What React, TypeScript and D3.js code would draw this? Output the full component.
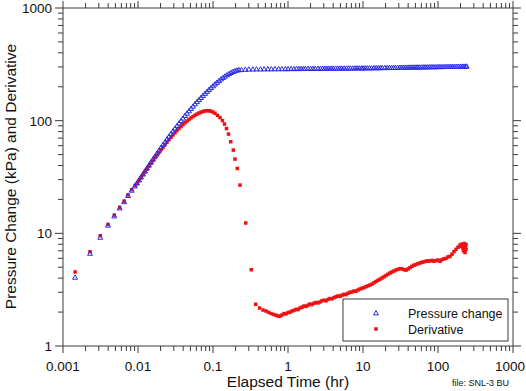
import React from "react";
import * as d3 from "d3";

// ---- data (time in hr, values in kPa) ----
const earlyTime = [0.00145, 0.00229, 0.00314, 0.00398, 0.00483, 0.0057, 0.00654, 0.00736, 0.00824, 0.00912];
const earlyPressure = [4.07, 6.64, 9.21, 11.78, 14.24, 16.77, 19.07, 21.6, 24.1, 26.3];
const earlyDerivative = [4.54, 6.87, 9.52, 12.0, 14.5, 17.0, 19.3, 21.9, 24.4, 26.6];

const storageTime = [0.0097, 0.01031, 0.01096, 0.01166, 0.0124, 0.01318, 0.01402, 0.01491, 0.01585, 0.01685,
  0.01792, 0.01905, 0.02026, 0.02154, 0.02291, 0.02436, 0.0259, 0.02754, 0.02929, 0.03114,
  0.03311, 0.03521, 0.03744, 0.03981, 0.04233, 0.04501, 0.04786, 0.05089, 0.05412, 0.05754,
  0.06119, 0.06506, 0.06918, 0.07356, 0.07822, 0.08318, 0.08844, 0.09405, 0.1, 0.1063,
  0.1131, 0.1202, 0.1278, 0.1359, 0.1445, 0.1537, 0.1634, 0.1738, 0.1848, 0.1965, 0.2089, 0.2222];
const storagePressure = [27.95, 29.72, 31.59, 33.59, 35.71, 37.96, 40.36, 42.91, 45.62, 48.42,
  51.37, 54.51, 57.85, 61.24, 64.85, 68.66, 72.56, 76.67, 81.02, 85.44,
  90.1, 95.01, 100.0, 105.2, 110.8, 116.3, 122.2, 128.1, 134.2, 140.7,
  147.2, 153.6, 160.3, 167.3, 174.3, 181.6, 188.8, 196.3, 203.6, 211.2,
  218.7, 226.4, 233.9, 241.2, 248.3, 254.9, 261.2, 267.2, 272.7, 277.2, 280.6, 282.9];

const plateauTime = [0.24, 0.27, 0.3, 0.34, 0.38, 0.43, 0.48, 0.54, 0.6, 0.67, 0.75, 0.83, 0.92, 1.0,
  1.1, 1.2, 1.3, 1.4, 1.5, 1.6, 1.7, 1.85, 2.0, 2.15, 2.3, 2.5, 2.7, 2.9, 3.1, 3.3, 3.5, 3.75,
  4.0, 4.3, 4.6, 4.9, 5.2, 5.6, 6.0, 6.4, 6.8, 7.3, 7.8, 8.3, 8.9, 9.5, 10, 10.7, 11.4, 12.2,
  13, 14, 15, 16, 17, 18, 19.5, 21, 22.5, 24, 25.5, 27, 29, 31, 33, 35, 37.5, 40, 42.5, 45,
  48, 51, 54, 57, 61, 65, 69, 73, 78, 83, 88, 94, 100, 106, 113, 120, 128, 136, 145, 154,
  164, 175, 186, 198, 210, 222, 235, 241];
const plateauPressure = [283.5, 285.3, 286.2, 286.7, 287.0, 287.3, 287.5, 287.7, 287.9, 288.1, 288.3, 288.5, 288.7, 288.8,
  289.0, 289.2, 289.3, 289.5, 289.6, 289.7, 289.8, 290.0, 290.1, 290.3, 290.4, 290.6, 290.7, 290.9, 291.0, 291.1, 291.2, 291.4,
  291.5, 291.6, 291.8, 291.9, 292.0, 292.1, 292.2, 292.4, 292.5, 292.6, 292.7, 292.8, 293.0, 293.1, 293.2, 293.4, 293.5, 293.7,
  293.9, 294.1, 294.3, 294.5, 294.7, 294.9, 295.1, 295.4, 295.6, 295.8, 296.0, 296.2, 296.5, 296.7, 297.0, 297.2, 297.5, 297.7, 297.9, 298.1,
  298.3, 298.5, 298.7, 298.9, 299.2, 299.4, 299.6, 299.8, 300.1, 300.3, 300.5, 300.8, 301.0, 301.2, 301.5, 301.7, 301.9, 302.1, 302.4, 302.6,
  302.8, 303.0, 303.2, 303.4, 303.6, 303.8, 304.0, 304.1];

const riseDerivative = [27.67, 29.41, 31.21, 33.11, 35.13, 37.28, 39.56, 41.88, 44.36, 46.96,
  49.62, 52.43, 55.29, 58.32, 61.37, 64.59, 67.82, 71.24, 74.66, 78.09,
  81.68, 85.27, 88.83, 92.34, 95.8, 99.18, 102.5, 105.7, 108.7, 111.7,
  114.4, 116.8, 119.0, 120.7, 121.9, 122.7, 122.4, 121.2, 119.2];

const dropTime = [0.1063, 0.1148, 0.124, 0.1338, 0.1423, 0.1514, 0.161, 0.1722, 0.1866, 0.1965, 0.2109, 0.2291, 0.2729, 0.324, 0.371];
const dropDerivative = [116.3, 111.4, 106.5, 100.2, 93.3, 85.1, 76.05, 65.0, 54.8, 45.6, 37.7, 26.8, 12.35, 4.75, 2.344];

const tailTime = [0.4169, 0.4642, 0.509, 0.5495, 0.5935, 0.6406, 0.6918, 0.7356, 0.7822,
  0.8318, 0.8844, 0.9404, 1.0, 1.063, 1.131, 1.202, 1.278, 1.359, 1.445,
  1.537, 1.634, 1.738, 1.848, 1.965, 2.089, 2.222, 2.362, 2.512, 2.671,
  2.84, 3.02, 3.211, 3.415, 3.631, 3.861, 4.105, 4.365, 4.642, 4.936,
  5.248, 5.58, 5.934, 6.31, 6.709, 7.134, 7.586, 8.066, 8.577, 9.12,
  9.698, 10.31, 10.97, 11.66, 12.4, 13.18, 14.02, 14.91, 15.85, 16.85,
  17.92, 19.06, 20.26, 21.54, 22.91, 24.36, 25.9, 27.54, 29.29, 31.14,
  33.11, 35.21, 37.44, 39.81, 42.33, 45.01, 47.86, 50.89, 54.12, 57.54,
  61.19, 65.06, 69.18, 73.56, 78.22, 83.18, 88.44, 94.04, 100, 106.3,
  113.1, 120.2, 127.8, 135.9, 144.5, 153.7, 163.4, 173.8, 184.8, 196.5,
  202.6, 208.9, 215.4, 218.8, 222.2, 225.6, 229.1, 232.6, 236.2, 236.2];
const tailDerivative = [2.174, 2.086, 2.044, 1.991, 1.943, 1.904, 1.877, 1.846, 1.835,
  1.884, 1.939, 1.927, 1.979, 1.995, 2.044, 2.069, 2.117, 2.104, 2.174,
  2.21, 2.264, 2.246, 2.306, 2.359, 2.33, 2.398, 2.432, 2.413, 2.458,
  2.519, 2.55, 2.514, 2.591, 2.639, 2.623, 2.689, 2.733, 2.778, 2.761,
  2.824, 2.876, 2.859, 2.942, 2.991, 3.015, 3.077, 3.058, 3.14, 3.205,
  3.258, 3.298, 3.359, 3.421, 3.478, 3.542, 3.645, 3.735, 3.828, 3.915,
  4.012, 4.111, 4.222, 4.336, 4.444, 4.545, 4.629, 4.725, 4.793, 4.862,
  4.832, 4.764, 4.715, 4.823, 4.963, 5.096, 5.212, 5.287, 5.385, 5.451,
  5.53, 5.587, 5.655, 5.69, 5.678, 5.748, 5.655, 5.725, 5.796, 5.643,
  5.843, 5.94, 5.988, 6.175, 6.238, 6.525, 6.88, 7.211, 7.527, 7.873,
  7.637, 8.036, 7.405, 6.994, 7.715, 8.118, 6.755, 7.512, 7.954, 7.182];

const xTickLabels = ["0.001", "0.01", "0.1", "1", "10", "100", "1000"];
const yTickLabels = ["1", "10", "100", "1000"];
const legendLabels = ["Pressure change", "Derivative"];

const pressureTime = [...earlyTime, ...storageTime, ...plateauTime];
const pressureValue = [...earlyPressure, ...storagePressure, ...plateauPressure];
const derivativeTime = [...earlyTime, ...storageTime.slice(0, riseDerivative.length), ...dropTime, ...tailTime];
const derivativeValue = [...earlyDerivative, ...riseDerivative, ...dropDerivative, ...tailDerivative];

const FONT = "'Liberation Sans', Arial, Helvetica, sans-serif";
const BLUE = "#2a2ae6";
const RED = "#ee1111";
const AXIS = "#3a3a3a";

const isMajor = (v: number) => Math.abs(Math.log10(v) - Math.round(Math.log10(v))) < 1e-9;

export default function App() {
  const W = 526, H = 391;
  const L = 63, R = 513, T = 8, B = 346;
  const x = d3.scaleLog().domain([0.001, 1000]).range([L, R]);
  const y = d3.scaleLog().domain([1, 1000]).range([B, T]);
  const xTicks = x.ticks();
  const yTicks = y.ticks();
  const tri = "M0,-2.4L2.5,1.9L-2.5,1.9Z";
  const xMajors = xTicks.filter(isMajor);

  return (
    <svg width={W} height={H} style={{ position: "absolute", left: 0, top: 0, background: "#fff" }} fontFamily={FONT}>
      <rect x={0} y={0} width={W} height={H} fill="#fff" />
      {/* ticks */}
      {xTicks.map((t, i) => {
        const len = isMajor(t) ? 7 : 5;
        const px = x(t);
        return (
          <g key={"xt" + i} stroke={AXIS} strokeWidth={1}>
            <line x1={px} x2={px} y1={B} y2={B + len} />
            <line x1={px} x2={px} y1={T} y2={T - len} />
          </g>
        );
      })}
      {yTicks.map((t, i) => {
        const len = isMajor(t) ? 8 : 5;
        const py = y(t);
        return (
          <g key={"yt" + i} stroke={AXIS} strokeWidth={1}>
            <line x1={L} x2={L - len} y1={py} y2={py} />
            <line x1={R} x2={R + len} y1={py} y2={py} />
          </g>
        );
      })}
      <rect x={L} y={T} width={R - L} height={B - T} fill="none" stroke={AXIS} strokeWidth={1} />
      {/* tick labels */}
      {xMajors.map((t, i) => {
        const last = i === xMajors.length - 1;
        return (
          <text key={"xl" + i} x={last ? W - 1 : x(t)} y={371} textAnchor={last ? "end" : "middle"} fontSize={13.5} fill="#111">{xTickLabels[i]}</text>
        );
      })}
      {yTicks.filter(isMajor).map((t, i) => (
        <text key={"yl" + i} x={52} y={y(t) + 5} textAnchor="end" fontSize={13.5} fill="#111">{yTickLabels[i]}</text>
      ))}
      {/* data */}
      <g fill={RED}>
        {derivativeTime.map((t, i) => (
          <rect key={"d" + i} x={x(t) - 1.75} y={y(derivativeValue[i]) - 1.75} width={3.5} height={3.5} />
        ))}
      </g>
      <g fill="none" stroke={BLUE} strokeWidth={1}>
        {pressureTime.map((t, i) => (
          <path key={"p" + i} d={tri} transform={`translate(${x(t)},${y(pressureValue[i])})`} />
        ))}
      </g>
      {/* legend */}
      <rect x={343} y={299} width={165} height={42} fill="#fff" stroke={AXIS} strokeWidth={1} />
      <path d={tri} transform="translate(376,313)" fill="none" stroke={BLUE} strokeWidth={1} />
      <rect x={374.25} y={327.25} width={3.5} height={3.5} fill={RED} />
      <text x={408} y={317.5} fontSize={12.5} fill="#111">{legendLabels[0]}</text>
      <text x={408} y={333.5} fontSize={12.5} fill="#111">{legendLabels[1]}</text>
      {/* titles */}
      <text x={(L + R) / 2} y={387} textAnchor="middle" fontSize={15.5} fill="#111">Elapsed Time (hr)</text>
      <text transform="translate(16,176.5) rotate(-90)" textAnchor="middle" fontSize={15.5} fill="#111">Pressure Change (kPa) and Derivative</text>
      <text x={452} y={386} fontSize={9} fill="#111">file: SNL-3 BU</text>
    </svg>
  );
}
